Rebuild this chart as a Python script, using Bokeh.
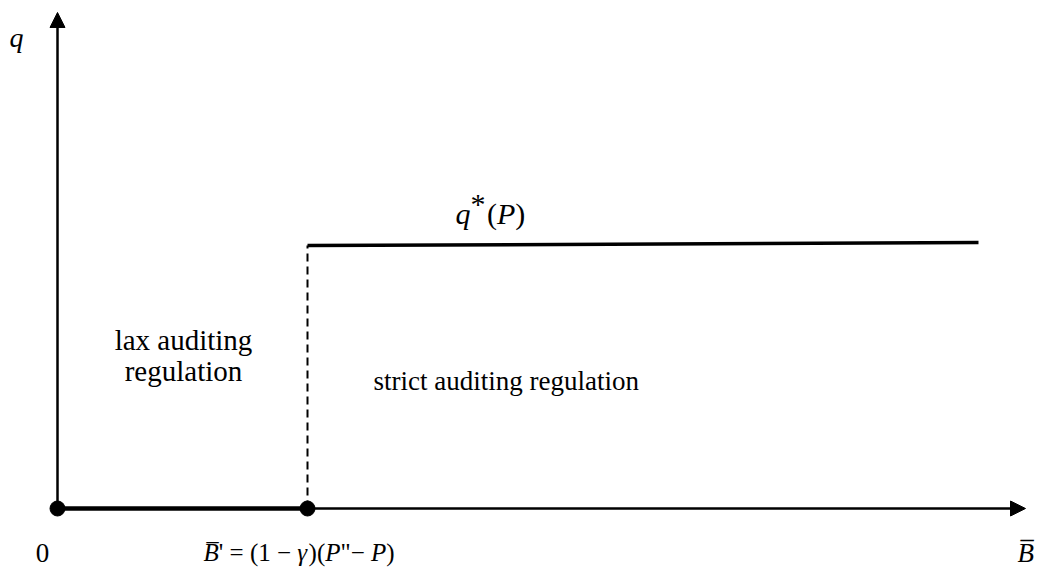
from bokeh.plotting import figure
from bokeh.models import Range1d, Arrow, NormalHead
from bokeh.core.properties import value
from bokeh.embed import file_html
from bokeh.resources import INLINE

# ---- data (schematic values) ----
b_threshold = 1.0            # B' = (1-gamma)(P''-P)
b_line_end = 3.684           # right end of the q*(P) line
b_axis_max = 3.872           # tip of the horizontal axis arrow
q_axis_max = 1.886           # tip of the vertical axis arrow
q_star_b = [b_threshold, b_line_end]
q_star_q = [1.0, 1.011]      # q*(P) level (slightly rising in the picture)
dot_b = [0.0, b_threshold]
dot_q = [0.0, 0.0]
lax_lines = ["lax auditing", "regulation"]
strict_text = "strict auditing regulation"
x_axis_label = "B\u0305"
y_axis_label = "q"
origin_label = "0"
qstar_label = [("q", "italic"), ("*", "normal"), ("(", "normal"), ("P", "italic"), (")", "normal")]
threshold_label = [("B\u0305", "italic"), (" ' = (1 \u2212", "normal"), ("\u03b3", "italic"),
                   (")(", "normal"), ("P", "italic"), ("\"\u2212 ", "normal"), ("P", "italic"),
                   (")", "normal")]

# ---- layout (canvas pixels) ----
W, H = 1035, 572
PX_X, PX_Y = 250.0, 263.0
X0, Y0 = 57.0, 508.0   # canvas pixel of the origin
FONT = "Liberation Serif"

def dx(px):
    return (px - X0) / PX_X

def dy(py):
    return (Y0 - py) / PX_Y

p = figure(width=W, height=H, output_backend="svg", toolbar_location=None,
           x_range=Range1d(dx(0), dx(W)), y_range=Range1d(dy(H), dy(0)),
           min_border=0, background_fill_color="white", border_fill_color="white")
p.axis.visible = False
p.grid.visible = False
p.outline_line_color = None

# axes with arrowheads
p.add_layout(Arrow(end=NormalHead(size=15, fill_color="black", line_color="black", line_width=1),
                   x_start=0, y_start=0, x_end=0, y_end=q_axis_max,
                   line_width=2.5, line_color="black"))
p.add_layout(Arrow(end=NormalHead(size=15, fill_color="black", line_color="black", line_width=1),
                   x_start=0, y_start=0, x_end=b_axis_max, y_end=0,
                   line_width=2.5, line_color="black"))

# bold segment of q = 0 on lax region
p.line([0.0, b_threshold], [0.0, 0.0], line_width=4.5, line_color="black")
# dashed vertical at threshold
p.line([b_threshold, b_threshold], [0.0, q_star_q[0]], line_width=2, line_color="black",
       line_dash="8 5")
# q*(P) line
p.line(q_star_b, q_star_q, line_width=3.5, line_color="black")
# dots
p.scatter(dot_b, dot_q, size=15, marker="circle", fill_color="black", line_color="black")

# ---- char widths (em) for composing mixed-style labels ----
EM = {" ": 0.25, "'": 0.18, "=": 0.564, "(": 0.333, ")": 0.333, "1": 0.5, "\u2212": 0.564,
      "\"": 0.408, "B": 0.611, "P": 0.611, "\u03b3": 0.45, "q": 0.5, "*": 0.55, "\u0305": 0.0}

def compose(segments, x_left, base, fs):
    xs, ys, txt, sty = [], [], [], []
    cur = x_left
    for s, st in segments:
        xs.append(dx(cur)); ys.append(dy(base)); txt.append(s); sty.append(st)
        cur += sum(EM.get(c, 0.5) for c in s) * fs
    return dict(x=xs, y=ys, text=txt, style=sty)

def draw(src, fs):
    for st in ("italic", "normal"):
        idx = [i for i, s in enumerate(src["style"]) if s == st]
        if not idx:
            continue
        p.text(x=[src["x"][i] for i in idx], y=[src["y"][i] for i in idx],
               text=[src["text"][i] for i in idx], text_font=value(FONT),
               text_font_size=f"{fs}px", text_font_style=st, text_color="black",
               text_align="left", text_baseline="alphabetic")

def label(x, y, txt, fs, style="normal", align="left"):
    p.text(x=x, y=y, text=txt, text_font=value(FONT), text_font_size=f"{fs}px",
           text_font_style=style, text_color="black", text_align=align,
           text_baseline="alphabetic")

base_bottom = 552
# threshold formula
draw(compose(threshold_label, 203, base_bottom, 25), 25)
# q*(P) label, with the star raised
qs = compose(qstar_label, 455, 213, 30)
qs["y"][1] = dy(203)
draw(qs, 30)

# origin label and axis labels
label([dx(42)], [dy(base_bottom)], [origin_label], 27, align="center")
label([dx(1017)], [dy(base_bottom)], [x_axis_label], 27, style="italic")
label([dx(9)], [dy(37)], [y_axis_label], 28, style="italic")

# region labels
label([dx(183), dx(183)], [dy(339), dy(370)], lax_lines, 29, align="center")
label([dx(373)], [dy(380)], [strict_text], 27)

open("out.html", "w").write(file_html(p, INLINE))
